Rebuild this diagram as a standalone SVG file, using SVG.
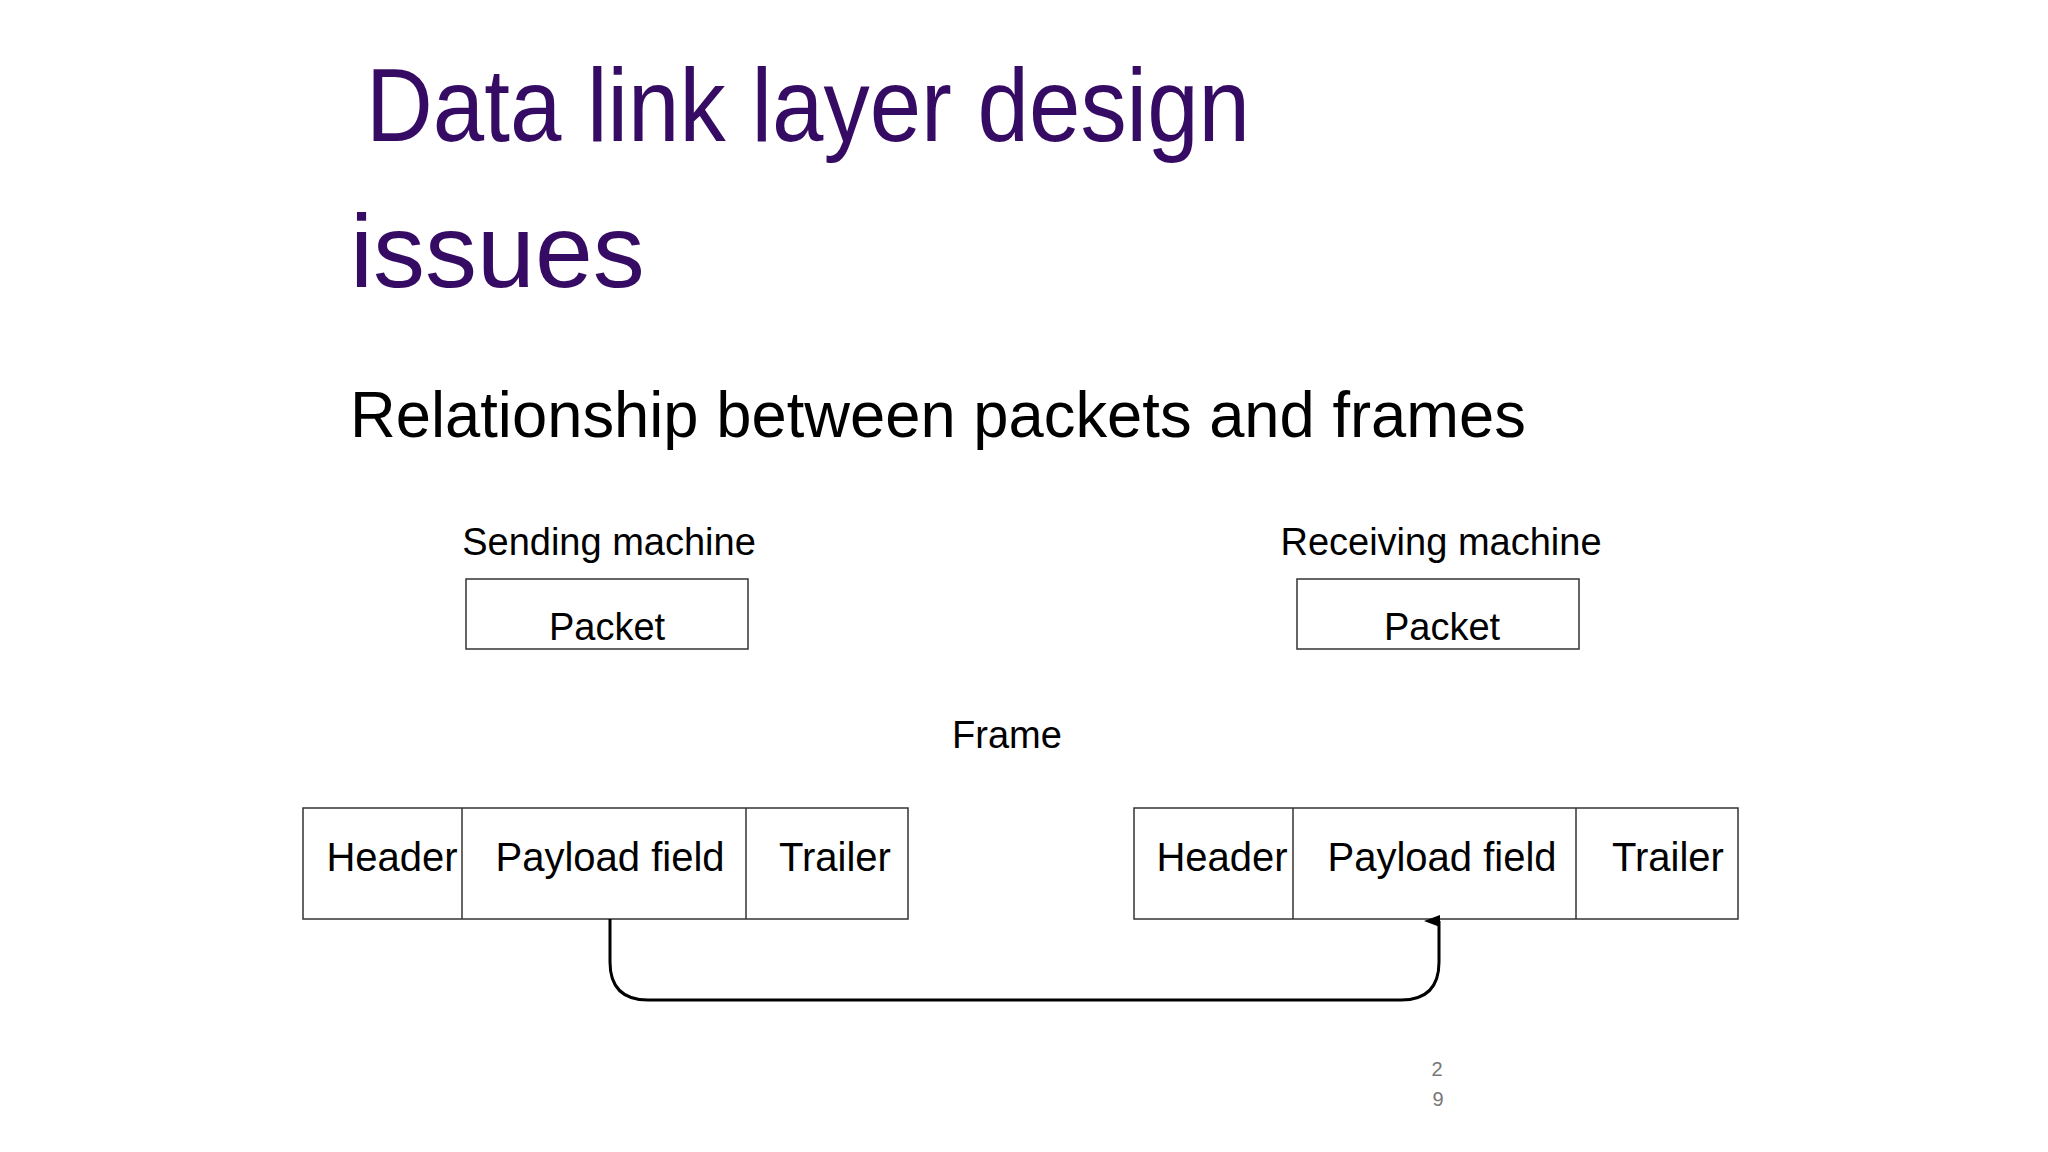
<svg xmlns="http://www.w3.org/2000/svg" width="2048" height="1152" viewBox="0 0 2048 1152">
<style>
text{font-family:"Liberation Sans",Arial,sans-serif;fill:#000}
.t{fill:#360b64;font-size:104px}
.b{fill:#fff;stroke:#333;stroke-width:1.5}
.l{font-size:38px;text-anchor:middle}
.f{font-size:40px;text-anchor:middle}
</style>
<defs><marker id="a" markerWidth="12" markerHeight="16" refX="6" refY="15" orient="auto-start-reverse" markerUnits="userSpaceOnUse" viewBox="0 0 12 16"><path d="M0,16 L6,0 L12,16 Z" fill="#000"/></marker></defs>
<rect width="2048" height="1152" fill="#fff"/>
<text class="t" x="366" y="141" textLength="884" lengthAdjust="spacingAndGlyphs">Data link layer design</text>
<text class="t" x="350" y="287">issues</text>
<text x="350" y="437" font-size="64" textLength="1176" lengthAdjust="spacingAndGlyphs">Relationship between packets and frames</text>
<g id="send"><text class="l" x="609" y="555">Sending machine</text>
<rect class="b" x="466" y="579" width="282" height="70"/><text class="l" x="607" y="640">Packet</text></g>
<g id="recv"><text class="l" x="1441" y="555">Receiving machine</text>
<rect class="b" x="1297" y="579" width="282" height="70"/><text class="l" x="1442" y="640">Packet</text></g>
<text class="l" x="1007" y="748">Frame</text>
<g id="frame1"><rect class="b" x="303" y="808" width="605" height="111"/>
<line x1="462" y1="808" x2="462" y2="919" stroke="#333" stroke-width="1.5"/><line x1="746" y1="808" x2="746" y2="919" stroke="#333" stroke-width="1.5"/>
<text class="f" x="392" y="871">Header</text><text class="f" x="610" y="871">Payload field</text><text class="f" x="835" y="871">Trailer</text></g>
<g id="frame2"><rect class="b" x="1134" y="808" width="604" height="111"/>
<line x1="1293" y1="808" x2="1293" y2="919" stroke="#333" stroke-width="1.5"/><line x1="1576" y1="808" x2="1576" y2="919" stroke="#333" stroke-width="1.5"/>
<text class="f" x="1222" y="871">Header</text><text class="f" x="1442" y="871">Payload field</text><text class="f" x="1668" y="871">Trailer</text></g>
<g id="connectors"><path d="M610,919 V962 Q610,1000 648,1000 H1401 Q1439,1000 1439,962 V921" fill="none" stroke="#000" stroke-width="3" marker-end="url(#a)"/></g>
<text x="1437" y="1076" font-size="20" fill="#777" style="fill:#777" text-anchor="middle">2</text>
<text x="1438" y="1106" font-size="20" style="fill:#777" text-anchor="middle">9</text>
</svg>
